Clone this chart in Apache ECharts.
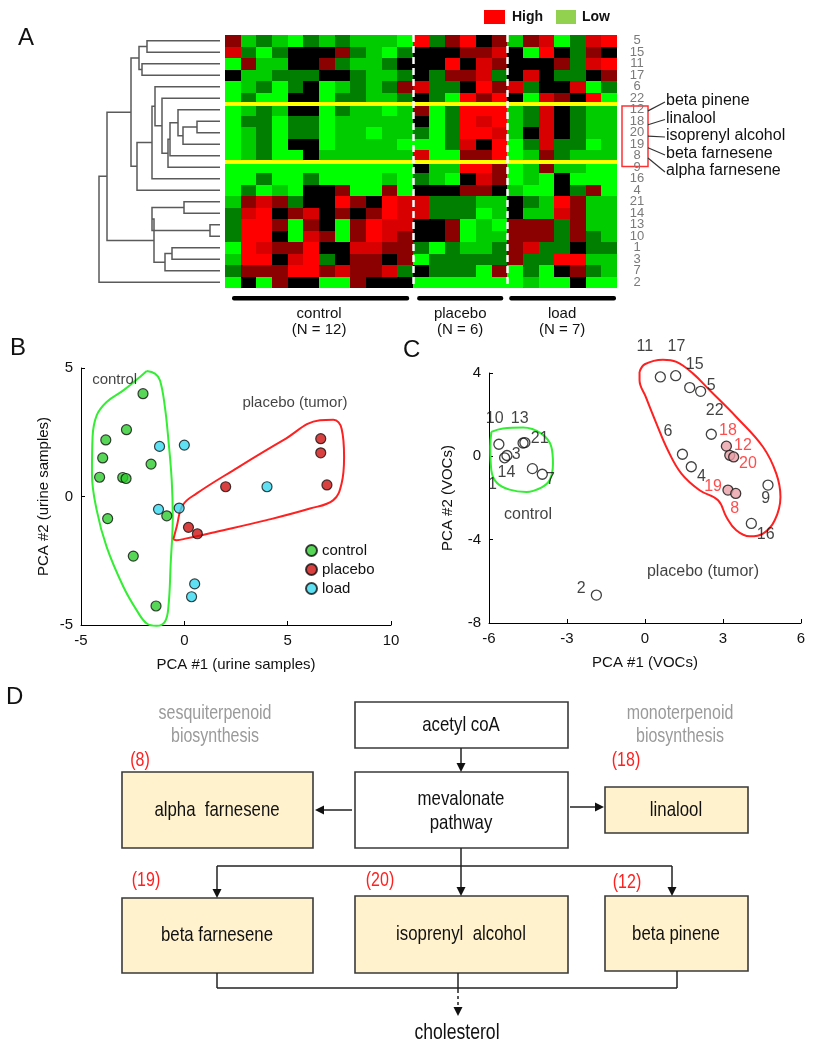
<!DOCTYPE html>
<html><head><meta charset="utf-8">
<script src="https://cdn.jsdelivr.net/npm/echarts@6/dist/echarts.min.js"></script>
<style>html,body{margin:0;padding:0;background:#fff}#c{width:817px;height:1050px}</style>
</head><body><div id="c"></div>
<script>
// ---------- Panel A data ----------
const rowLabels = ['5','15','11','17','6','22','12','18','20','19','8','9','16','4','21','14','13','10','1','3','7','2'];
// levels: -3 bright green, -2 green, -1 dark green, 0 black, 1 dark red, 2 red, 3 bright red
const controlValues = [
 [1,-2,-1,-2,-3,-1,-2,-1,-2,-2,-2,-3],
 [2,-1,-3,-1,0,0,0,1,-1,-2,-3,-1],
 [-3,1,-2,-2,0,0,1,-1,-2,-2,-1,0],
 [0,-2,-2,-1,-1,-1,0,0,-1,-2,-2,-1],
 [-3,-2,-1,-3,-1,0,-3,-2,-1,-2,-1,1],
 [-3,-1,-3,-3,0,0,-3,-1,-1,-2,-2,-1],
 [-3,-2,-1,-2,0,0,-3,-1,-2,-2,-3,-2],
 [-3,-1,-1,-3,-1,-1,-3,-2,-2,-2,-2,-2],
 [-3,-2,-1,-3,-1,-1,-3,-2,-2,-3,-2,-2],
 [-3,-2,-1,-3,0,0,-3,-2,-2,-2,-2,-3],
 [-3,-2,-1,-3,-3,0,-2,-2,-2,-2,-2,-2],
 [-3,-3,-3,-3,-3,-3,-3,-3,-3,-3,-3,-3],
 [-3,-3,-1,-3,-3,-1,-3,-3,-3,-3,-2,-3],
 [-3,-1,-3,-2,-3,0,0,1,-3,-3,1,-3],
 [-2,1,2,1,-1,0,0,3,1,0,3,2],
 [-1,2,3,0,1,2,0,1,0,1,3,2],
 [-1,3,3,1,-3,1,0,-3,1,3,2,2],
 [-1,3,3,0,-3,2,1,-3,1,3,2,1],
 [-3,3,2,1,1,3,0,0,2,2,1,1],
 [-2,3,3,0,2,3,-1,0,1,1,0,1],
 [-1,1,1,1,3,3,1,2,1,1,2,-1],
 [-3,0,-3,1,0,0,-3,-3,1,0,0,0]
];
const placeboValues = [
 [3,-1,1,3,0,1],[0,0,0,1,1,2],[0,0,3,0,2,1],[0,-1,1,1,2,-1],[2,-1,-1,0,3,1],[0,-1,-3,3,1,3],
 [1,-3,-1,3,3,3],[0,-3,-1,3,2,3],[-1,-3,-1,3,3,2],[-3,-3,-1,2,0,3],[2,-3,-3,1,1,3],
 [0,-2,-2,3,3,1],[-1,-2,-3,0,2,1],[0,0,0,1,1,0],[2,-1,-1,-1,-2,-2],[2,-1,-1,-1,-3,-2],
 [0,0,1,-3,-2,-3],[0,0,1,-3,-2,-2],[-1,-3,-1,-2,-2,-1],[-3,-1,-1,-1,-1,-1],[0,-1,-1,-1,-3,1],
 [-3,-3,-3,-3,-3,-3]
];
const loadValues = [
 [-2,1,2,-3,-1,2,3],[0,-3,3,0,-1,1,0],[0,0,0,1,-1,2,3],[0,2,0,-1,-1,0,1],[2,-1,0,0,2,-3,-1],
 [0,-3,2,1,0,3,-3],[-2,-1,2,0,-1,-2,-2],[-2,-1,2,0,-1,-2,-2],[-2,0,2,0,-1,-2,-2],
 [-3,-1,2,-1,-1,-3,-2],[-3,-2,1,-1,-2,-2,-2],[-3,-2,1,-2,-2,-3,-3],[-3,-2,-3,0,-3,-3,-3],
 [-2,-3,-3,0,-1,1,-3],[0,-1,-2,3,1,-2,-2],[0,-2,-2,2,1,-2,-2],[1,1,1,-1,1,-2,-2],
 [1,1,1,-1,1,-1,-2],[1,2,-1,-1,0,-1,-1],[1,-1,-1,3,3,-2,-2],[-3,-1,-3,0,1,-1,-2],
 [-3,-2,-3,-3,0,-3,-3]
];
const groupNames = ['control','placebo','load'];
const groupSizes = ['(N = 12)','(N = 6)','(N = 7)'];
// dendrogram merges: [childA, childB, height]; leaves 0..21 (row order), new nodes 22+
const dendroMerges = [
 [0,1,73],[2,3,78],[22,23,81],[7,8,23],[25,9,37],[6,26,42],[27,10,50],[28,11,52],
 [5,29,58],[4,30,65],[31,12,68],[32,13,83],[24,33,89],[14,15,36],[16,17,10],[35,36,68],
 [18,19,48],[38,20,55],[37,39,66],[34,40,113],[41,21,121]
];
const annotNames = ['beta pinene','linalool','isoprenyl alcohol','beta farnesene','alpha farnesene'];

// ---------- Panel B data ----------
const bControl = [[-2.0,4.0],[-2.8,2.6],[-3.8,2.2],[-3.95,1.5],[-4.1,0.75],[-2.98,0.74],[-2.82,0.7],[-1.61,1.26],[-3.71,-0.86],[-0.85,-0.75],[-2.47,-2.32],[-1.37,-4.26]];
const bPlacebo = [[6.6,2.25],[6.6,1.7],[6.9,0.45],[2.0,0.38],[0.2,-1.2],[0.63,-1.45]];
const bLoad = [[-1.2,1.95],[0.0,2.0],[4.0,0.38],[-1.25,-0.5],[-0.25,-0.45],[0.5,-3.4],[0.35,-3.9]];
const bHullControl = [[-1.82,4.88],[-1.42,4.78],[-1.18,4.52],[-0.94,3.48],[-0.77,2.19],[-0.61,0.63],[-0.56,-0.79],[-0.66,-2.6],[-0.77,-4.29],[-0.94,-4.87],[-1.34,-5.03],[-1.82,-4.94],[-2.31,-4.42],[-2.95,-3.51],[-3.76,-1.96],[-4.24,-0.53],[-4.47,0.89],[-4.44,2.32],[-4.24,3.16],[-3.76,3.68],[-2.95,4.13],[-2.15,4.65],[-1.82,4.88]];
const bHullPlacebo = [[-0.53,-1.67],[-0.37,-1.18],[-0.08,-0.34],[0.6,0.12],[2.37,1.02],[4.79,2.19],[6.56,2.97],[7.21,2.99],[7.61,2.64],[7.73,1.54],[7.61,0.51],[7.21,-0.14],[6.08,-0.47],[3.98,-0.92],[1.56,-1.37],[0.11,-1.63],[-0.37,-1.7],[-0.53,-1.67]];
const bTexts = [['control',-3.37,4.53],['placebo (tumor)',5.35,3.63]];

// ---------- Panel C data ----------
const cControl = [[-5.62,0.58],[-4.69,0.64],[-4.62,0.66],[-5.31,0.04],[-5.40,-0.07],[-4.33,-0.59],[-3.95,-0.86]];
const cOther = [[0.59,3.81],[1.18,3.87],[1.72,3.3],[2.14,3.12],[2.55,1.06],[1.44,0.1],[1.78,-0.5],[4.73,-1.38],[4.09,-3.22],[-1.87,-6.66]];
const cTerpenes = [[3.13,0.49],[3.26,0.05],[3.41,-0.03],[3.19,-1.62],[3.49,-1.78]];
const cLabels = [['10',-5.78,1.81],['13',-4.82,1.81],['21',-4.05,0.85],['3',-4.95,0.1],['14',-5.33,-0.8],['1',-5.87,-1.38],['7',-3.64,-1.14],['11',-0.01,5.25],['17',1.21,5.25],['15',1.91,4.4],['5',2.55,3.41],['22',2.68,2.21],['6',0.88,1.17],['4',2.17,-0.98],['9',4.64,-2.02],['16',4.64,-3.74],['2',-2.45,-6.34]];
const cRedLabels = [['18',3.19,1.25],['12',3.77,0.53],['20',3.96,-0.35],['19',2.62,-1.46],['8',3.45,-2.5]];
const cHullControl = [[-5.91,1.17],[-5.46,1.34],[-4.69,1.38],[-3.99,1.09],[-3.60,0.45],[-3.54,-0.35],[-3.67,-1.15],[-3.99,-1.5],[-4.56,-1.71],[-5.21,-1.6],[-5.69,-1.28],[-5.91,-0.67],[-5.95,0.45],[-5.91,1.17]];
const cHullPlacebo = [[-0.21,4.05],[-0.01,4.42],[0.69,4.64],[1.21,4.53],[1.85,3.97],[2.49,3.17],[3.51,1.89],[4.54,0.45],[5.05,-0.83],[5.21,-1.95],[4.99,-3.07],[4.54,-3.71],[4.03,-3.84],[3.51,-3.55],[3.13,-2.91],[2.81,-2.11],[2.10,-1.63],[1.40,-0.83],[0.88,0.29],[0.44,1.57],[0.03,2.85],[-0.21,3.65],[-0.21,4.05]];
const cTexts = [['control',-4.5,-2.78],['placebo (tumor)',2.23,-5.55]];

// ---------- build ----------
const FONT = "'Liberation Sans', Arial, sans-serif";
const heatData = [];
rowLabels.forEach((_, r) => {
  controlValues[r].forEach((v, c) => heatData.push([c, r, v]));
  placeboValues[r].forEach((v, c) => heatData.push([12 + c, r, v]));
  loadValues[r].forEach((v, c) => heatData.push([18 + c, r, v]));
});
const nodeY = [], nodeH = [];
for (let i = 0; i < rowLabels.length; i++) { nodeY[i] = i + 0.5; nodeH[i] = 0; }
const dendroData = dendroMerges.map((m, k) => {
  const id = rowLabels.length + k;
  nodeY[id] = (nodeY[m[0]] + nodeY[m[1]]) / 2; nodeH[id] = m[2];
  return [nodeY[m[0]], nodeY[m[1]], nodeH[m[0]], nodeH[m[1]], m[2]];
});

const chart = echarts.init(document.getElementById('c'));
const labelSeries = (xi, yi, arr, color, size) => ({
  type: 'scatter', xAxisIndex: xi, yAxisIndex: yi, symbolSize: 0, clip: false, silent: true,
  data: arr.map(t => ({ name: t[0], value: [t[1], t[2]] })),
  label: { show: true, position: 'inside', formatter: p => p.name, color: color, fontSize: size, fontFamily: FONT }
});
const hull = (xi, yi, arr, color) => ({
  type: 'line', xAxisIndex: xi, yAxisIndex: yi, data: arr, smooth: 0.4, symbol: 'none', clip: false, silent: true,
  lineStyle: { color: color, width: 2 }, z: 1
});
const valAxis = (grid, min, max, interval, name, gap) => ({
  type: 'value', gridIndex: grid, min: min, max: max, interval: interval, name: name,
  nameLocation: 'middle', nameGap: gap, nameTextStyle: { fontSize: 15, color: '#111', fontFamily: FONT },
  axisLine: { onZero: false, lineStyle: { color: '#000', width: 1 } }, axisTick: { inside: true, length: 4, lineStyle: { color: '#000' } },
  axisLabel: { fontSize: 15, color: '#111', fontFamily: FONT, margin: 8 }, splitLine: { show: false }
});

const option = {
  animation: false,
  textStyle: { fontFamily: FONT },
  grid: [
    { left: 225, top: 35, width: 392, height: 253 },
    { left: 95, top: 35, width: 125, height: 253 },
    { left: 81, top: 368, width: 310, height: 257 },
    { left: 489, top: 373, width: 312, height: 250 }
  ],
  xAxis: [
    { type: 'value', gridIndex: 0, min: 0, max: 25, show: false },
    { type: 'value', gridIndex: 1, min: 0, max: 125, inverse: true, show: false },
    valAxis(2, -5, 10, 5, 'PCA #1 (urine samples)', 32),
    valAxis(3, -6, 6, 3, 'PCA #1 (VOCs)', 32)
  ],
  yAxis: [
    { type: 'value', gridIndex: 0, min: 0, max: 22, inverse: true, show: false },
    { type: 'category', gridIndex: 0, data: rowLabels, inverse: true, position: 'right',
      axisLine: { show: false }, axisTick: { show: false },
      axisLabel: { color: '#7a7a7a', fontSize: 13, align: 'center', margin: 20, fontFamily: FONT, interval: 0 } },
    { type: 'value', gridIndex: 1, min: 0, max: 22, inverse: true, show: false },
    valAxis(2, -5, 5, 5, 'PCA #2 (urine samples)', 30),
    valAxis(3, -8, 4, 4, 'PCA #2 (VOCs)', 34)
  ],
  visualMap: [{
    type: 'piecewise', show: false, seriesIndex: 0, dimension: 2,
    pieces: [
      { value: -3, color: '#00ff00' }, { value: -2, color: '#00cc00' }, { value: -1, color: '#007f00' },
      { value: 0, color: '#000000' }, { value: 1, color: '#8b0000' }, { value: 2, color: '#d80000' }, { value: 3, color: '#ff0000' }
    ]
  }],
  legend: {
    data: ['control', 'placebo', 'load'], orient: 'vertical', left: 300, top: 538, itemWidth: 11, itemHeight: 11, itemGap: 4,
    icon: 'circle', textStyle: { fontSize: 15, color: '#111', fontFamily: FONT }, selectedMode: false
  },
  series: [
    { type: 'custom', xAxisIndex: 0, yAxisIndex: 0, data: heatData, silent: true,
      renderItem: (params, api) => {
        const p0 = api.coord([api.value(0), api.value(1)]);
        const p1 = api.coord([api.value(0) + 1, api.value(1) + 1]);
        const x = Math.round(p0[0]), y = Math.round(p0[1]);
        return { type: 'rect', shape: { x: x, y: y, width: Math.round(p1[0]) - x, height: Math.round(p1[1]) - y }, style: { fill: api.visual('color') } };
      },
      markLine: { silent: true, symbol: 'none', label: { show: false },
        data: [
          { yAxis: 6, lineStyle: { color: '#ffff00', width: 4, type: 'solid' } },
          { yAxis: 11, lineStyle: { color: '#ffff00', width: 4, type: 'solid' } },
          { xAxis: 12, lineStyle: { color: '#ffffff', width: 2.5, type: [7, 4] } },
          { xAxis: 18, lineStyle: { color: '#ffffff', width: 2.5, type: [7, 4] } }
        ] } },
    { type: 'custom', xAxisIndex: 1, yAxisIndex: 2, data: dendroData, silent: true,
      renderItem: (params, api) => {
        const a = api.coord([api.value(2), api.value(0)]), a2 = api.coord([api.value(4), api.value(0)]);
        const b2 = api.coord([api.value(4), api.value(1)]), b = api.coord([api.value(3), api.value(1)]);
        return { type: 'polyline', shape: { points: [a, a2, b2, b] }, style: { stroke: '#5a5a5a', lineWidth: 1.5, fill: null } };
      } },
    hull(2, 3, bHullControl, '#33ee33'),
    hull(2, 3, bHullPlacebo, '#ff2020'),
    { name: 'control', type: 'scatter', xAxisIndex: 2, yAxisIndex: 3, data: bControl, symbolSize: 10, clip: false,
      itemStyle: { color: '#2ecc2e', borderColor: '#111', borderWidth: 1.2 } },
    { name: 'placebo', type: 'scatter', xAxisIndex: 2, yAxisIndex: 3, data: bPlacebo, symbolSize: 10, clip: false,
      itemStyle: { color: '#d01010', borderColor: '#111', borderWidth: 1.2 } },
    { name: 'load', type: 'scatter', xAxisIndex: 2, yAxisIndex: 3, data: bLoad, symbolSize: 10, clip: false,
      itemStyle: { color: '#38d8f0', borderColor: '#111', borderWidth: 1.2 } },
    labelSeries(2, 3, bTexts, '#111', 15),
    hull(3, 4, cHullControl, '#33ee33'),
    hull(3, 4, cHullPlacebo, '#ff2020'),
    { name: 'vControl', type: 'scatter', xAxisIndex: 3, yAxisIndex: 4, data: cControl, symbolSize: 10, clip: false,
      itemStyle: { color: 'rgba(255,255,255,0)', borderColor: '#111', borderWidth: 1.3 } },
    { name: 'vOther', type: 'scatter', xAxisIndex: 3, yAxisIndex: 4, data: cOther, symbolSize: 10, clip: false,
      itemStyle: { color: 'rgba(255,255,255,0)', borderColor: '#111', borderWidth: 1.3 } },
    { name: 'vTerp', type: 'scatter', xAxisIndex: 3, yAxisIndex: 4, data: cTerpenes, symbolSize: 10, clip: false,
      itemStyle: { color: '#e8a0a8', borderColor: '#111', borderWidth: 1.3 } },
    labelSeries(3, 4, cLabels, '#111', 16),
    labelSeries(3, 4, cRedLabels, '#ff2020', 16),
    labelSeries(3, 4, cTexts, '#111', 16)
  ]
};
chart.setOption(option);

// ---------- overlay graphics ----------
const px = (c, r) => chart.convertToPixel({ xAxisIndex: 0, yAxisIndex: 0 }, [c, r]);
const g = [];
const T = (text, x, y, o, el) => g.push(Object.assign({ type: 'text', x: x, y: y, style: Object.assign({ text: text, fill: '#111', font: '15px ' + FONT, textAlign: 'center', textVerticalAlign: 'middle' }, o || {}) }, el || {}));
const L = (x1, y1, x2, y2, o) => g.push({ type: 'line', shape: { x1, y1, x2, y2 }, style: Object.assign({ stroke: '#222', lineWidth: 1.5 }, o || {}) });
const R = (x, y, w, h, fill, o) => g.push({ type: 'rect', shape: { x, y, width: w, height: h }, style: Object.assign({ fill: fill, stroke: '#3a3a3a', lineWidth: 1.6 }, o || {}) });
const arrowHead = (x, y, dir) => { // tip at (x,y)
  const s = 9, w = 4.5; let pts;
  if (dir === 'down') pts = [[x, y], [x - w, y - s], [x + w, y - s]];
  if (dir === 'left') pts = [[x, y], [x + s, y - w], [x + s, y + w]];
  if (dir === 'right') pts = [[x, y], [x - s, y - w], [x - s, y + w]];
  g.push({ type: 'polygon', shape: { points: pts }, style: { fill: '#111' } });
};
// panel letters
T('A', 18, 38, { font: '24px ' + FONT, textAlign: 'left' });
T('B', 10, 348, { font: '24px ' + FONT, textAlign: 'left' });
T('C', 403, 350, { font: '24px ' + FONT, textAlign: 'left' });
T('D', 6, 697, { font: '24px ' + FONT, textAlign: 'left' });
// High / Low legend
R(484, 10, 21, 14, '#ff0000', { lineWidth: 0, stroke: null });
T('High', 512, 17, { font: 'bold 14px ' + FONT, textAlign: 'left' });
R(556, 10, 20, 14, '#92d050', { lineWidth: 0, stroke: null });
T('Low', 582, 17, { font: 'bold 14px ' + FONT, textAlign: 'left' });
// group bars and labels
const groupCols = [[0, 12], [12, 18], [18, 25]];
const pad = [[7, 4], [4, 4], [2, 1]];
groupCols.forEach((gc, i) => {
  const a = px(gc[0], 22), b = px(gc[1], 22);
  g.push({ type: 'rect', shape: { x: a[0] + pad[i][0], y: a[1] + 8, width: b[0] - a[0] - pad[i][0] - pad[i][1], height: 4.5, r: 2 }, style: { fill: '#000' } });
  T(groupNames[i], (a[0] + b[0]) / 2, a[1] + 26, {});
  T(groupSizes[i], (a[0] + b[0]) / 2, a[1] + 42, {});
});
// red box around terpene rows + annotations
const boxTop = px(25, 6), boxBot = px(25, 11);
g.push({ type: 'rect', shape: { x: boxTop[0] + 5, y: boxTop[1] + 2, width: 26, height: boxBot[1] - boxTop[1] + 3 }, style: { fill: null, stroke: '#ff3030', lineWidth: 1.5 } });
const annY = [101, 118.5, 136, 154, 171];
const lineFrom = [6.6, 7.8, 8.8, 9.8, 10.7];
annotNames.forEach((n, i) => {
  const p = px(25, lineFrom[i]);
  L(p[0] + 31, p[1], 665, annY[i] + 1, { stroke: '#333', lineWidth: 1.2 });
  T(n, 666, annY[i], { font: '16px ' + FONT, textAlign: 'left' });
});
// ---------- Panel D ----------
const cream = '#fff2cc';
R(355, 702, 213, 46, '#fff');
R(355, 772, 213, 76, '#fff');
R(122, 772, 191, 76, cream);
R(605, 787, 143, 46, cream);
R(122, 898, 191, 75, cream);
R(355, 896, 213, 77, cream);
R(605, 896, 143, 75, cream);
const NX = { scaleX: 0.8 };
const DF = { font: '21px ' + FONT };
T('acetyl coA', 461, 725, DF, NX);
T('mevalonate', 461, 799, DF, NX);
T('pathway', 461, 823, DF, NX);
T('alpha  farnesene', 217, 810, DF, NX);
T('linalool', 676, 810, DF, NX);
T('beta farnesene', 217, 935, DF, NX);
T('isoprenyl  alcohol', 461, 934, DF, NX);
T('beta pinene', 676, 934, DF, NX);
T('cholesterol', 457, 1033, { font: '22px ' + FONT }, NX);
const GF = { font: '20px ' + FONT, fill: '#9a9a9a' };
T('sesquiterpenoid', 215, 713, GF, NX); T('biosynthesis', 215, 736, GF, NX);
T('monoterpenoid', 680, 713, GF, NX); T('biosynthesis', 680, 736, GF, NX);
const RF = { font: '20px ' + FONT, fill: '#ff2020' };
T('(8)', 140, 760, RF, NX); T('(18)', 626, 760, RF, NX); T('(19)', 146, 880, RF, NX); T('(20)', 380, 880, RF, NX); T('(12)', 627, 882, RF, NX);
L(461, 748, 461, 765); arrowHead(461, 772, 'down');
L(352, 810, 322, 810); arrowHead(315, 810, 'left');
L(570, 807, 597, 807); arrowHead(604, 807, 'right');
L(461, 848, 461, 889); arrowHead(461, 896, 'down');
L(217, 866, 672, 866);
L(217, 866, 217, 891); arrowHead(217, 898, 'down');
L(672, 866, 672, 889); arrowHead(672, 896, 'down');
L(217, 973, 217, 988); L(677, 971, 677, 988); L(217, 988, 677, 988);
L(458, 973, 458, 990);
L(458, 990, 458, 1008, { lineDash: [3, 3] }); arrowHead(458, 1016, 'down');
chart.setOption({ graphic: { elements: g } });
</script>
</body></html>
